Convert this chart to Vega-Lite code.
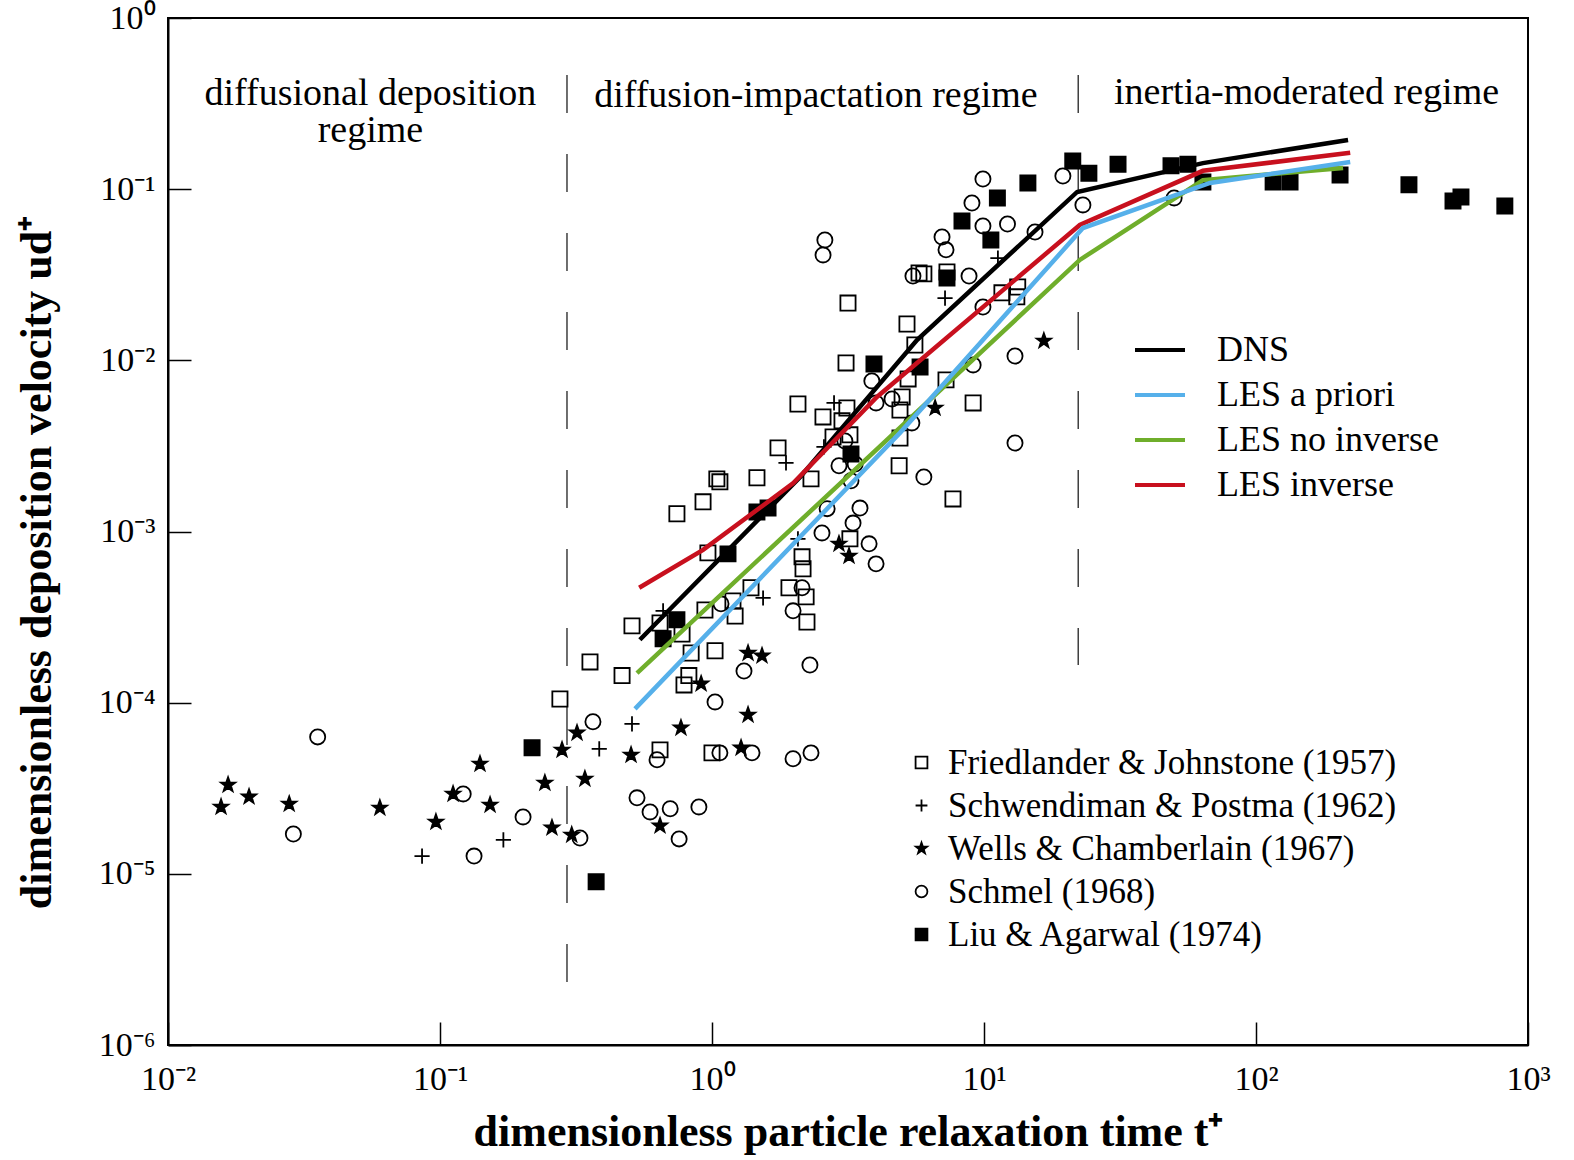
{
  "$schema": "https://vega.github.io/schema/vega-lite/v6.json",
  "width": 1360,
  "height": 1027,
  "autosize": {"type": "none"},
  "padding": {"left": 168, "top": 18, "right": 46, "bottom": 115},
  "background": "white",
  "config": {
    "font": "Liberation Serif",
    "view": {"stroke": "black", "strokeWidth": 2},
    "axis": {
      "domainColor": "black", "domainWidth": 2, "tickColor": "black", "tickWidth": 1.5,
      "tickSize": -23, "grid": false, "labelColor": "black", "titleColor": "black",
      "labelFont": "Liberation Serif", "labelFontSize": 34, "titleFont": "Liberation Serif",
      "titleFontSize": 44, "titleFontWeight": "bold", "labelOverlap": false, "labelFlush": false, "labelBound": false
    }
  },
  "datasets": {
    "points": [
      {"t":0.276,"u":1.05e-4,"src":"Friedlander & Johnstone (1957)"},
      {"t":0.356,"u":1.73e-4,"src":"Friedlander & Johnstone (1957)"},
      {"t":0.467,"u":1.44e-4,"src":"Friedlander & Johnstone (1957)"},
      {"t":0.508,"u":2.81e-4,"src":"Friedlander & Johnstone (1957)"},
      {"t":0.644,"u":2.92e-4,"src":"Friedlander & Johnstone (1957)"},
      {"t":0.776,"u":2.52e-4,"src":"Friedlander & Johnstone (1957)"},
      {"t":0.838,"u":1.95e-4,"src":"Friedlander & Johnstone (1957)"},
      {"t":0.822,"u":1.44e-4,"src":"Friedlander & Johnstone (1957)"},
      {"t":0.789,"u":1.27e-4,"src":"Friedlander & Johnstone (1957)"},
      {"t":1.026,"u":2.01e-4,"src":"Friedlander & Johnstone (1957)"},
      {"t":0.942,"u":3.48e-4,"src":"Friedlander & Johnstone (1957)"},
      {"t":1.194,"u":3.93e-4,"src":"Friedlander & Johnstone (1957)"},
      {"t":1.216,"u":3.21e-4,"src":"Friedlander & Johnstone (1957)"},
      {"t":1.391,"u":4.69e-4,"src":"Friedlander & Johnstone (1957)"},
      {"t":1.919,"u":4.69e-4,"src":"Friedlander & Johnstone (1957)"},
      {"t":2.218,"u":4.15e-4,"src":"Friedlander & Johnstone (1957)"},
      {"t":2.234,"u":2.96e-4,"src":"Friedlander & Johnstone (1957)"},
      {"t":2.143,"u":7.11e-4,"src":"Friedlander & Johnstone (1957)"},
      {"t":2.161,"u":6.05e-4,"src":"Friedlander & Johnstone (1957)"},
      {"t":0.966,"u":7.50e-4,"src":"Friedlander & Johnstone (1957)"},
      {"t":0.743,"u":1.27e-3,"src":"Friedlander & Johnstone (1957)"},
      {"t":0.927,"u":1.49e-3,"src":"Friedlander & Johnstone (1957)"},
      {"t":1.042,"u":2.03e-3,"src":"Friedlander & Johnstone (1957)"},
      {"t":1.069,"u":1.95e-3,"src":"Friedlander & Johnstone (1957)"},
      {"t":1.463,"u":2.06e-3,"src":"Friedlander & Johnstone (1957)"},
      {"t":2.312,"u":2.03e-3,"src":"Friedlander & Johnstone (1957)"},
      {"t":1.749,"u":3.08e-3,"src":"Friedlander & Johnstone (1957)"},
      {"t":2.070,"u":5.56e-3,"src":"Friedlander & Johnstone (1957)"},
      {"t":3.133,"u":5.27e-3,"src":"Friedlander & Johnstone (1957)"},
      {"t":2.559,"u":4.67e-3,"src":"Friedlander & Johnstone (1957)"},
      {"t":3.006,"u":4.43e-3,"src":"Friedlander & Johnstone (1957)"},
      {"t":3.214,"u":3.67e-3,"src":"Friedlander & Johnstone (1957)"},
      {"t":2.786,"u":3.57e-3,"src":"Friedlander & Johnstone (1957)"},
      {"t":3.214,"u":9.06e-4,"src":"Friedlander & Johnstone (1957)"},
      {"t":4.875,"u":2.42e-3,"src":"Friedlander & Johnstone (1957)"},
      {"t":4.91,"u":5.13e-3,"src":"Friedlander & Johnstone (1957)"},
      {"t":5.00,"u":6.11e-3,"src":"Friedlander & Johnstone (1957)"},
      {"t":5.26,"u":7.79e-3,"src":"Friedlander & Johnstone (1957)"},
      {"t":7.25,"u":7.69e-3,"src":"Friedlander & Johnstone (1957)"},
      {"t":9.12,"u":5.64e-3,"src":"Friedlander & Johnstone (1957)"},
      {"t":7.69,"u":1.55e-3,"src":"Friedlander & Johnstone (1957)"},
      {"t":5.57,"u":1.23e-2,"src":"Friedlander & Johnstone (1957)"},
      {"t":5.21,"u":1.63e-2,"src":"Friedlander & Johnstone (1957)"},
      {"t":3.11,"u":9.66e-3,"src":"Friedlander & Johnstone (1957)"},
      {"t":3.162,"u":2.16e-2,"src":"Friedlander & Johnstone (1957)"},
      {"t":6.01,"u":3.20e-2,"src":"Friedlander & Johnstone (1957)"},
      {"t":5.77,"u":3.24e-2,"src":"Friedlander & Johnstone (1957)"},
      {"t":7.31,"u":3.28e-2,"src":"Friedlander & Johnstone (1957)"},
      {"t":11.64,"u":2.48e-2,"src":"Friedlander & Johnstone (1957)"},
      {"t":13.3,"u":2.68e-2,"src":"Friedlander & Johnstone (1957)"},
      {"t":13.2,"u":2.35e-2,"src":"Friedlander & Johnstone (1957)"},
      {"t":4.91,"u":3.52e-3,"src":"Friedlander & Johnstone (1957)"},
      {"t":0.644,"u":5.30e-5,"src":"Friedlander & Johnstone (1957)"},
      {"t":1.0,"u":5.09e-5,"src":"Friedlander & Johnstone (1957)"},
      {"t":0.0859,"u":1.27e-5,"src":"Schwendiman & Postma (1962)"},
      {"t":0.171,"u":1.58e-5,"src":"Schwendiman & Postma (1962)"},
      {"t":0.385,"u":5.37e-5,"src":"Schwendiman & Postma (1962)"},
      {"t":0.508,"u":7.52e-5,"src":"Schwendiman & Postma (1962)"},
      {"t":0.661,"u":3.44e-4,"src":"Schwendiman & Postma (1962)"},
      {"t":1.541,"u":4.09e-4,"src":"Schwendiman & Postma (1962)"},
      {"t":1.871,"u":2.52e-3,"src":"Schwendiman & Postma (1962)"},
      {"t":2.070,"u":9.06e-4,"src":"Schwendiman & Postma (1962)"},
      {"t":2.81,"u":5.64e-3,"src":"Schwendiman & Postma (1962)"},
      {"t":7.19,"u":2.31e-2,"src":"Schwendiman & Postma (1962)"},
      {"t":11.25,"u":3.96e-2,"src":"Schwendiman & Postma (1962)"},
      {"t":2.58,"u":3.12e-3,"src":"Schwendiman & Postma (1962)"},
      {"t":0.01567,"u":2.46e-5,"src":"Wells & Chamberlain (1967)"},
      {"t":0.01663,"u":3.31e-5,"src":"Wells & Chamberlain (1967)"},
      {"t":0.01986,"u":2.82e-5,"src":"Wells & Chamberlain (1967)"},
      {"t":0.0279,"u":2.56e-5,"src":"Wells & Chamberlain (1967)"},
      {"t":0.0601,"u":2.43e-5,"src":"Wells & Chamberlain (1967)"},
      {"t":0.0966,"u":2.01e-5,"src":"Wells & Chamberlain (1967)"},
      {"t":0.1117,"u":2.93e-5,"src":"Wells & Chamberlain (1967)"},
      {"t":0.1403,"u":4.39e-5,"src":"Wells & Chamberlain (1967)"},
      {"t":0.1528,"u":2.53e-5,"src":"Wells & Chamberlain (1967)"},
      {"t":0.243,"u":3.40e-5,"src":"Wells & Chamberlain (1967)"},
      {"t":0.258,"u":1.86e-5,"src":"Wells & Chamberlain (1967)"},
      {"t":0.305,"u":1.69e-5,"src":"Wells & Chamberlain (1967)"},
      {"t":0.281,"u":5.30e-5,"src":"Wells & Chamberlain (1967)"},
      {"t":0.319,"u":6.67e-5,"src":"Wells & Chamberlain (1967)"},
      {"t":0.341,"u":3.59e-5,"src":"Wells & Chamberlain (1967)"},
      {"t":0.504,"u":4.95e-5,"src":"Wells & Chamberlain (1967)"},
      {"t":0.769,"u":7.13e-5,"src":"Wells & Chamberlain (1967)"},
      {"t":1.279,"u":5.45e-5,"src":"Wells & Chamberlain (1967)"},
      {"t":1.357,"u":8.49e-5,"src":"Wells & Chamberlain (1967)"},
      {"t":0.912,"u":1.29e-4,"src":"Wells & Chamberlain (1967)"},
      {"t":1.357,"u":1.95e-4,"src":"Wells & Chamberlain (1967)"},
      {"t":1.527,"u":1.88e-4,"src":"Wells & Chamberlain (1967)"},
      {"t":2.93,"u":8.47e-4,"src":"Wells & Chamberlain (1967)"},
      {"t":3.19,"u":7.20e-4,"src":"Wells & Chamberlain (1967)"},
      {"t":6.61,"u":5.27e-3,"src":"Wells & Chamberlain (1967)"},
      {"t":16.6,"u":1.30e-2,"src":"Wells & Chamberlain (1967)"},
      {"t":0.644,"u":1.91e-5,"src":"Wells & Chamberlain (1967)"},
      {"t":0.0355,"u":6.31e-5,"src":"Schmel (1968)"},
      {"t":0.0289,"u":1.71e-5,"src":"Schmel (1968)"},
      {"t":0.1217,"u":2.93e-5,"src":"Schmel (1968)"},
      {"t":0.1334,"u":1.27e-5,"src":"Schmel (1968)"},
      {"t":0.202,"u":2.15e-5,"src":"Schmel (1968)"},
      {"t":0.327,"u":1.62e-5,"src":"Schmel (1968)"},
      {"t":0.365,"u":7.73e-5,"src":"Schmel (1968)"},
      {"t":0.530,"u":2.78e-5,"src":"Schmel (1968)"},
      {"t":0.592,"u":2.30e-5,"src":"Schmel (1968)"},
      {"t":0.702,"u":2.40e-5,"src":"Schmel (1968)"},
      {"t":0.895,"u":2.46e-5,"src":"Schmel (1968)"},
      {"t":0.628,"u":4.64e-5,"src":"Schmel (1968)"},
      {"t":1.069,"u":5.09e-5,"src":"Schmel (1968)"},
      {"t":1.403,"u":5.09e-5,"src":"Schmel (1968)"},
      {"t":1.986,"u":4.70e-5,"src":"Schmel (1968)"},
      {"t":2.312,"u":5.09e-5,"src":"Schmel (1968)"},
      {"t":1.026,"u":1.01e-4,"src":"Schmel (1968)"},
      {"t":1.311,"u":1.53e-4,"src":"Schmel (1968)"},
      {"t":2.291,"u":1.66e-4,"src":"Schmel (1968)"},
      {"t":1.079,"u":3.78e-4,"src":"Schmel (1968)"},
      {"t":1.986,"u":3.44e-4,"src":"Schmel (1968)"},
      {"t":2.143,"u":4.69e-4,"src":"Schmel (1968)"},
      {"t":2.537,"u":9.81e-4,"src":"Schmel (1968)"},
      {"t":2.65,"u":1.36e-3,"src":"Schmel (1968)"},
      {"t":3.30,"u":1.12e-3,"src":"Schmel (1968)"},
      {"t":3.50,"u":1.37e-3,"src":"Schmel (1968)"},
      {"t":3.78,"u":8.47e-4,"src":"Schmel (1968)"},
      {"t":4.01,"u":6.47e-4,"src":"Schmel (1968)"},
      {"t":2.93,"u":2.42e-3,"src":"Schmel (1968)"},
      {"t":3.36,"u":2.48e-3,"src":"Schmel (1968)"},
      {"t":3.243,"u":1.98e-3,"src":"Schmel (1968)"},
      {"t":3.08,"u":3.38e-3,"src":"Schmel (1968)"},
      {"t":6.01,"u":2.08e-3,"src":"Schmel (1968)"},
      {"t":5.43,"u":4.31e-3,"src":"Schmel (1968)"},
      {"t":4.01,"u":5.64e-3,"src":"Schmel (1968)"},
      {"t":4.59,"u":5.95e-3,"src":"Schmel (1968)"},
      {"t":3.87,"u":7.58e-3,"src":"Schmel (1968)"},
      {"t":9.12,"u":9.40e-3,"src":"Schmel (1968)"},
      {"t":13.0,"u":1.06e-2,"src":"Schmel (1968)"},
      {"t":13.0,"u":3.29e-3,"src":"Schmel (1968)"},
      {"t":9.91,"u":2.05e-2,"src":"Schmel (1968)"},
      {"t":8.81,"u":3.11e-2,"src":"Schmel (1968)"},
      {"t":5.48,"u":3.11e-2,"src":"Schmel (1968)"},
      {"t":7.01,"u":5.26e-2,"src":"Schmel (1968)"},
      {"t":7.25,"u":4.42e-2,"src":"Schmel (1968)"},
      {"t":2.60,"u":5.05e-2,"src":"Schmel (1968)"},
      {"t":2.56,"u":4.13e-2,"src":"Schmel (1968)"},
      {"t":9.91,"u":0.1147,"src":"Schmel (1968)"},
      {"t":9.03,"u":8.30e-2,"src":"Schmel (1968)"},
      {"t":9.91,"u":6.10e-2,"src":"Schmel (1968)"},
      {"t":12.2,"u":6.26e-2,"src":"Schmel (1968)"},
      {"t":15.4,"u":5.62e-2,"src":"Schmel (1968)"},
      {"t":19.5,"u":0.1194,"src":"Schmel (1968)"},
      {"t":23.1,"u":8.09e-2,"src":"Schmel (1968)"},
      {"t":50.0,"u":8.89e-2,"src":"Schmel (1968)"},
      {"t":0.757,"u":1.60e-5,"src":"Schmel (1968)"},
      {"t":0.218,"u":5.45e-5,"src":"Liu & Agarwal (1974)"},
      {"t":0.375,"u":8.98e-6,"src":"Liu & Agarwal (1974)"},
      {"t":0.661,"u":2.36e-4,"src":"Liu & Agarwal (1974)"},
      {"t":0.743,"u":3.05e-4,"src":"Liu & Agarwal (1974)"},
      {"t":1.145,"u":7.40e-4,"src":"Liu & Agarwal (1974)"},
      {"t":1.463,"u":1.30e-3,"src":"Liu & Agarwal (1974)"},
      {"t":1.607,"u":1.37e-3,"src":"Liu & Agarwal (1974)"},
      {"t":3.243,"u":2.84e-3,"src":"Liu & Agarwal (1974)"},
      {"t":3.94,"u":9.53e-3,"src":"Liu & Agarwal (1974)"},
      {"t":5.82,"u":9.15e-3,"src":"Liu & Agarwal (1974)"},
      {"t":7.31,"u":3.03e-2,"src":"Liu & Agarwal (1974)"},
      {"t":8.30,"u":6.52e-2,"src":"Liu & Agarwal (1974)"},
      {"t":10.6,"u":5.05e-2,"src":"Liu & Agarwal (1974)"},
      {"t":11.2,"u":8.89e-2,"src":"Liu & Agarwal (1974)"},
      {"t":14.5,"u":0.1087,"src":"Liu & Agarwal (1974)"},
      {"t":21.2,"u":0.146,"src":"Liu & Agarwal (1974)"},
      {"t":24.3,"u":0.124,"src":"Liu & Agarwal (1974)"},
      {"t":31.1,"u":0.140,"src":"Liu & Agarwal (1974)"},
      {"t":48.7,"u":0.137,"src":"Liu & Agarwal (1974)"},
      {"t":56.2,"u":0.140,"src":"Liu & Agarwal (1974)"},
      {"t":63.8,"u":0.110,"src":"Liu & Agarwal (1974)"},
      {"t":115.6,"u":0.110,"src":"Liu & Agarwal (1974)"},
      {"t":133.4,"u":0.110,"src":"Liu & Agarwal (1974)"},
      {"t":203.7,"u":0.121,"src":"Liu & Agarwal (1974)"},
      {"t":365,"u":0.106,"src":"Liu & Agarwal (1974)"},
      {"t":530,"u":0.0853,"src":"Liu & Agarwal (1974)"},
      {"t":567,"u":0.090,"src":"Liu & Agarwal (1974)"},
      {"t":822,"u":0.0798,"src":"Liu & Agarwal (1974)"}
    ],
    "lines": [
      {"t":0.543,"u":2.33e-4,"model":"DNS"},
      {"t":2.11,"u":2.08e-3,"model":"DNS"},
      {"t":5.67,"u":1.315e-2,"model":"DNS"},
      {"t":22.0,"u":0.0963,"model":"DNS"},
      {"t":63.8,"u":0.142,"model":"DNS"},
      {"t":218,"u":0.194,"model":"DNS"},
      {"t":0.540,"u":4.69e-4,"model":"LES inverse"},
      {"t":0.927,"u":7.81e-4,"model":"LES inverse"},
      {"t":1.99,"u":1.92e-3,"model":"LES inverse"},
      {"t":4.04,"u":6.11e-3,"model":"LES inverse"},
      {"t":22.5,"u":0.0618,"model":"LES inverse"},
      {"t":63.8,"u":0.128,"model":"LES inverse"},
      {"t":222,"u":0.163,"model":"LES inverse"},
      {"t":0.530,"u":1.49e-4,"model":"LES no inverse"},
      {"t":22.5,"u":0.0386,"model":"LES no inverse"},
      {"t":63.8,"u":0.113,"model":"LES no inverse"},
      {"t":209,"u":0.133,"model":"LES no inverse"},
      {"t":0.521,"u":9.2e-5,"model":"LES a priori"},
      {"t":4.91,"u":3.77e-3,"model":"LES a priori"},
      {"t":23.1,"u":0.0593,"model":"LES a priori"},
      {"t":67.7,"u":0.1087,"model":"LES a priori"},
      {"t":222,"u":0.144,"model":"LES a priori"}
    ],
    "divisions": [
      {"t":0.293,"top":0.465,"bottom":2.25e-6},
      {"t":22.2,"top":0.465,"bottom":1.66e-4}
    ],
    "regimes": [
      {"t":0.0555,"u":0.31,"label":"diffusional deposition\nregime"},
      {"t":2.41,"u":0.302,"label":"diffusion-impactation regime"},
      {"t":153.4,"u":0.315,"label":"inertia-moderated regime"}
    ]
  },
  "layer": [
    {
      "data": {"name": "divisions"},
      "mark": {"type": "rule", "strokeDash": [38, 41], "strokeWidth": 1.3, "color": "#222222"},
      "encoding": {
        "x": {"field": "t", "type": "quantitative", "scale": {"type": "log", "domain": [0.01, 1000], "nice": false},
          "axis": {"values": [0.01, 0.1, 1, 10, 100, 1000], "labelPadding": 40,
            "labelExpr": "'10' + replace(replace(replace(replace(replace(replace(replace(replace('' + round(log(datum.value)/LN10), '-', '⁻'), '0', '⁰'), '1', '¹'), '2', '²'), '3', '³'), '4', '⁴'), '5', '⁵'), '6', '⁶')",
            "title": "dimensionless particle relaxation time t⁺", "titleY": 100, "titleBaseline": "alphabetic"}},
        "y": {"field": "top", "type": "quantitative", "scale": {"type": "log", "domain": [1e-6, 1], "nice": false},
          "axis": {"values": [1e-6, 1e-5, 1e-4, 1e-3, 1e-2, 1e-1, 1], "labelPadding": 36,
            "labelExpr": "'10' + replace(replace(replace(replace(replace(replace(replace(replace('' + round(log(datum.value)/LN10), '-', '⁻'), '0', '⁰'), '1', '¹'), '2', '²'), '3', '³'), '4', '⁴'), '5', '⁵'), '6', '⁶')",
            "title": "dimensionless deposition velocity ud⁺", "titleX": -118, "titleY": 544, "titleBaseline": "alphabetic"}},
        "y2": {"field": "bottom"}
      }
    },
    {
      "data": {"name": "points"},
      "mark": {"type": "point", "filled": false, "strokeWidth": 1.8, "size": 230, "opacity": 1},
      "encoding": {
        "x": {"field": "t", "type": "quantitative"},
        "y": {"field": "u", "type": "quantitative"},
        "shape": {"field": "src", "type": "nominal",
          "scale": {"domain": ["Friedlander & Johnstone (1957)", "Schwendiman & Postma (1962)", "Wells & Chamberlain (1967)", "Schmel (1968)", "Liu & Agarwal (1974)"],
            "range": ["square", "M-1,0L1,0M0,-1L0,1", "M0,-1L0.235,-0.324L0.951,-0.309L0.38,0.124L0.588,0.809L0,0.4L-0.588,0.809L-0.38,0.124L-0.951,-0.309L-0.235,-0.324Z", "circle", "square"]},
          "legend": {"orient": "none", "legendX": 736, "legendY": 727, "title": null, "direction": "vertical", "padding": 0,
            "labelFont": "Liberation Serif", "labelFontSize": 35, "labelColor": "black", "labelOffset": 9, "labelLimit": 800, "rowPadding": 7,
            "symbolSize": 140, "symbolStrokeWidth": 1.8}},
        "fill": {"field": "src", "type": "nominal",
          "scale": {"domain": ["Friedlander & Johnstone (1957)", "Schwendiman & Postma (1962)", "Wells & Chamberlain (1967)", "Schmel (1968)", "Liu & Agarwal (1974)"],
            "range": ["transparent", "transparent", "black", "transparent", "black"]},
          "legend": {"orient": "none", "legendX": 736, "legendY": 727, "title": null, "direction": "vertical", "padding": 0,
            "labelFont": "Liberation Serif", "labelFontSize": 35, "labelColor": "black", "labelOffset": 9, "labelLimit": 800, "rowPadding": 7,
            "symbolSize": 140, "symbolStrokeWidth": 1.8}},
        "stroke": {"field": "src", "type": "nominal",
          "scale": {"domain": ["Friedlander & Johnstone (1957)", "Schwendiman & Postma (1962)", "Wells & Chamberlain (1967)", "Schmel (1968)", "Liu & Agarwal (1974)"],
            "range": ["black", "black", "black", "black", "black"]},
          "legend": {"orient": "none", "legendX": 736, "legendY": 727, "title": null, "direction": "vertical", "padding": 0,
            "labelFont": "Liberation Serif", "labelFontSize": 35, "labelColor": "black", "labelOffset": 9, "labelLimit": 800, "rowPadding": 7,
            "symbolSize": 140, "symbolStrokeWidth": 1.8}}
      }
    },
    {
      "data": {"name": "lines"},
      "mark": {"type": "line", "strokeWidth": 4.5},
      "encoding": {
        "x": {"field": "t", "type": "quantitative"},
        "y": {"field": "u", "type": "quantitative"},
        "color": {"field": "model", "type": "nominal",
          "scale": {"domain": ["DNS", "LES a priori", "LES no inverse", "LES inverse"], "range": ["#000000", "#56b0ea", "#6fae2b", "#c8101e"]},
          "legend": {"orient": "none", "legendX": 965, "legendY": 305, "title": null, "direction": "vertical", "padding": 0,
            "symbolType": "stroke", "symbolSize": 2500, "symbolStrokeWidth": 4,
            "labelFont": "Liberation Serif", "labelFontSize": 36, "labelColor": "black", "labelOffset": 30, "labelLimit": 800, "rowPadding": 0}}
      }
    },
    {
      "data": {"name": "regimes"},
      "mark": {"type": "text", "font": "Liberation Serif", "fontSize": 38, "align": "center", "baseline": "alphabetic", "lineBreak": "\n", "lineHeight": 37, "color": "black"},
      "encoding": {
        "x": {"field": "t", "type": "quantitative"},
        "y": {"field": "u", "type": "quantitative"},
        "text": {"field": "label"}
      }
    }
  ]
}
